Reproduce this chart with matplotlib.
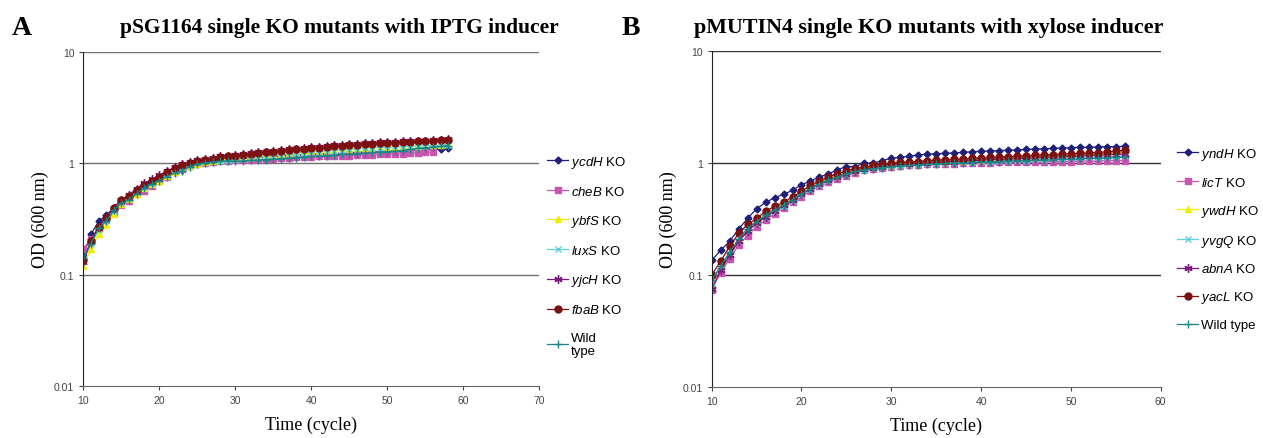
import numpy as np
import matplotlib
matplotlib.use("Agg")
import matplotlib.pyplot as plt

plt.rcParams['mathtext.fontset'] = 'custom'
plt.rcParams['mathtext.it'] = 'Liberation Sans:italic'
plt.rcParams['mathtext.rm'] = 'Liberation Sans'

# ---- panel A data (OD600 per cycle, starting at cycle 10) ----
a_names = ["ycdH", "cheB", "ybfS", "luxS", "yjcH", "fbaB", None]
a_ycdH = [0.15, 0.23, 0.30, 0.34, 0.40, 0.46, 0.50, 0.57, 0.63, 0.68, 0.74, 0.80, 0.84, 0.87, 0.95,
          1.00, 1.04, 1.07, 1.08, 1.10, 1.10, 1.12, 1.13, 1.14, 1.15, 1.16, 1.17, 1.18, 1.19, 1.19,
          1.20, 1.21, 1.22, 1.22, 1.23, 1.24, 1.25, 1.26, 1.27, 1.27, 1.28, 1.29, 1.30, 1.31, 1.33,
          1.34, 1.34, 1.35, 1.37]
a_cheB = [0.17, 0.21, 0.26, 0.31, 0.36, 0.42, 0.46, 0.53, 0.56, 0.63, 0.69, 0.76, 0.83, 0.89, 0.94,
          0.98, 1.00, 1.02, 1.04, 1.05, 1.06, 1.06, 1.07, 1.08, 1.09, 1.10, 1.11, 1.12, 1.13, 1.13,
          1.14, 1.15, 1.15, 1.16, 1.17, 1.17, 1.18, 1.19, 1.19, 1.20, 1.21, 1.21, 1.22, 1.23, 1.24,
          1.25, 1.26]
a_ybfS = [0.12, 0.17, 0.23, 0.28, 0.35, 0.43, 0.48, 0.53, 0.60, 0.65, 0.70, 0.77, 0.84, 0.90, 0.95,
          0.99, 1.02, 1.05, 1.07, 1.09, 1.11, 1.13, 1.14, 1.16, 1.18, 1.19, 1.21, 1.23, 1.25, 1.26,
          1.28, 1.29, 1.31, 1.32, 1.34, 1.35, 1.36, 1.37, 1.38, 1.39, 1.40, 1.41, 1.42, 1.43, 1.44,
          1.45, 1.46, 1.47, 1.48]
a_luxS = [0.14, 0.19, 0.25, 0.31, 0.37, 0.44, 0.48, 0.55, 0.61, 0.66, 0.72, 0.79, 0.86, 0.92, 0.97,
          1.00, 1.03, 1.04, 1.05, 1.06, 1.08, 1.10, 1.12, 1.14, 1.16, 1.17, 1.19, 1.21, 1.23, 1.24,
          1.26, 1.27, 1.29, 1.30, 1.32, 1.33, 1.34, 1.36, 1.37, 1.38, 1.39, 1.40, 1.41, 1.42, 1.43,
          1.44, 1.45, 1.46, 1.47]
a_yjcH = [0.13, 0.20, 0.27, 0.33, 0.40, 0.47, 0.52, 0.59, 0.66, 0.72, 0.78, 0.85, 0.92, 0.98, 1.02,
          1.06, 1.09, 1.12, 1.15, 1.17, 1.19, 1.21, 1.23, 1.25, 1.27, 1.29, 1.31, 1.33, 1.35, 1.37,
          1.39, 1.41, 1.43, 1.45, 1.47, 1.49, 1.50, 1.52, 1.53, 1.54, 1.55, 1.56, 1.57, 1.58, 1.59,
          1.60, 1.61, 1.63, 1.65]
a_fbaB = [0.135, 0.20, 0.27, 0.32, 0.40, 0.47, 0.51, 0.58, 0.64, 0.70, 0.76, 0.84, 0.91, 0.97, 1.00,
          1.04, 1.07, 1.10, 1.13, 1.15, 1.17, 1.19, 1.21, 1.23, 1.25, 1.27, 1.29, 1.31, 1.33, 1.35,
          1.36, 1.38, 1.40, 1.42, 1.44, 1.46, 1.47, 1.49, 1.50, 1.51, 1.52, 1.53, 1.55, 1.56, 1.57,
          1.58, 1.59, 1.61, 1.63]
a_wt = [0.14, 0.19, 0.26, 0.30, 0.38, 0.44, 0.47, 0.53, 0.60, 0.65, 0.70, 0.76, 0.82, 0.86, 0.93,
        0.98, 1.01, 1.03, 1.04, 1.05, 1.04, 1.05, 1.06, 1.07, 1.08, 1.09, 1.10, 1.11, 1.12, 1.14,
        1.15, 1.16, 1.17, 1.18, 1.20, 1.21, 1.22, 1.23, 1.25, 1.26, 1.27, 1.28, 1.30, 1.33, 1.36,
        1.38, 1.40, 1.42, 1.44]
a_series = [a_ycdH, a_cheB, a_ybfS, a_luxS, a_yjcH, a_fbaB, a_wt]

# ---- panel B data ----
b_names = ["yndH", "licT", "ywdH", "yvgQ", "abnA", "yacL", None]
b_yndH = [0.135, 0.166, 0.20, 0.257, 0.32, 0.39, 0.445, 0.49, 0.525, 0.57, 0.64, 0.69, 0.75, 0.80,
          0.87, 0.93, 0.93, 1.00, 1.00, 1.05, 1.10, 1.12, 1.15, 1.18, 1.20, 1.21, 1.22, 1.23, 1.245,
          1.26, 1.27, 1.28, 1.29, 1.30, 1.31, 1.32, 1.33, 1.34, 1.35, 1.36, 1.37, 1.38, 1.38, 1.39,
          1.40, 1.40, 1.41]
b_licT = [0.074, 0.105, 0.14, 0.185, 0.225, 0.27, 0.31, 0.35, 0.40, 0.45, 0.50, 0.56, 0.62, 0.67,
          0.72, 0.77, 0.82, 0.86, 0.89, 0.91, 0.93, 0.94, 0.95, 0.96, 0.97, 0.97, 0.98, 0.98, 0.99,
          0.99, 1.00, 1.00, 1.01, 1.01, 1.01, 1.02, 1.02, 1.02, 1.03, 1.03, 1.03, 1.04, 1.04, 1.04,
          1.05, 1.05, 1.05]
b_ywdH = [0.085, 0.12, 0.16, 0.21, 0.26, 0.30, 0.35, 0.39, 0.43, 0.48, 0.54, 0.60, 0.66, 0.72,
          0.77, 0.82, 0.86, 0.89, 0.92, 0.94, 0.96, 0.98, 0.99, 1.00, 1.01, 1.02, 1.03, 1.04, 1.05,
          1.06, 1.07, 1.08, 1.09, 1.10, 1.11, 1.12, 1.13, 1.14, 1.15, 1.16, 1.17, 1.18, 1.19, 1.20,
          1.21, 1.22, 1.24]
b_yvgQ = [0.085, 0.115, 0.155, 0.20, 0.25, 0.29, 0.33, 0.37, 0.41, 0.46, 0.52, 0.58, 0.64, 0.70,
          0.75, 0.80, 0.84, 0.87, 0.90, 0.92, 0.94, 0.95, 0.96, 0.97, 0.98, 0.99, 1.00, 1.01, 1.02,
          1.03, 1.04, 1.04, 1.05, 1.06, 1.07, 1.07, 1.08, 1.09, 1.10, 1.10, 1.11, 1.12, 1.13, 1.13,
          1.14, 1.15, 1.16]
b_abnA = [0.075, 0.11, 0.15, 0.20, 0.245, 0.29, 0.33, 0.37, 0.42, 0.47, 0.53, 0.59, 0.65, 0.70,
          0.75, 0.80, 0.84, 0.88, 0.91, 0.93, 0.95, 0.97, 0.98, 0.99, 1.00, 1.01, 1.02, 1.03, 1.04,
          1.05, 1.06, 1.07, 1.08, 1.08, 1.09, 1.10, 1.11, 1.12, 1.13, 1.13, 1.14, 1.15, 1.16, 1.17,
          1.18, 1.19, 1.20]
b_yacL = [0.10, 0.133, 0.18, 0.235, 0.283, 0.32, 0.37, 0.41, 0.445, 0.50, 0.56, 0.63, 0.69, 0.75,
          0.80, 0.85, 0.89, 0.92, 0.95, 0.97, 0.99, 1.01, 1.02, 1.03, 1.05, 1.06, 1.07, 1.08, 1.09,
          1.10, 1.11, 1.12, 1.13, 1.14, 1.15, 1.16, 1.17, 1.18, 1.19, 1.20, 1.21, 1.22, 1.23, 1.24,
          1.26, 1.28, 1.30]
b_wt = [0.09, 0.12, 0.16, 0.21, 0.26, 0.30, 0.34, 0.38, 0.42, 0.47, 0.53, 0.59, 0.65, 0.70, 0.75,
        0.80, 0.84, 0.87, 0.89, 0.91, 0.93, 0.94, 0.95, 0.96, 0.97, 0.98, 0.99, 1.00, 1.00, 1.01,
        1.02, 1.02, 1.03, 1.04, 1.04, 1.05, 1.06, 1.06, 1.07, 1.08, 1.08, 1.09, 1.10, 1.10, 1.11,
        1.12, 1.12]
b_series = [b_yndH, b_licT, b_ywdH, b_yvgQ, b_abnA, b_yacL, b_wt]

start_cycle = 10

# excel-ish styles: (color, marker, size)
styles = [("#1f1f7a", "D", 3.5), ("#c855b0", "s", 5), ("#f2ee00", "^", 5),
          ("#5ccfe0", "x", 5), ("#7a1a80", (6, 2, 0), 6), ("#7d1010", "o", 5),
          ("#1a8585", "+", 6)]

tick_font = ["Liberation Sans Narrow", "Liberation Sans"]


def draw_panel(ax, names, series, xmax, grid_col, wt_label, leg_anchor, spacing):
    for name, ys, (c, m, ms) in zip(names, series, styles):
        x = np.arange(start_cycle, start_cycle + len(ys))
        lab = wt_label if name is None else "$\\mathit{%s}$ KO" % name
        ax.plot(x, ys, color=c, marker=m, markersize=ms, lw=0.9, mew=1.0, label=lab)
    ax.set_yscale("log")
    ax.set_ylim(0.01, 10)
    ax.set_xlim(10, xmax)
    ax.set_xticks(range(10, xmax + 1, 10))
    ax.set_yticks([0.01, 0.1, 1, 10])
    ax.set_yticklabels(["0.01", "0.1", "1", "10"])
    ax.minorticks_off()
    for v in [0.1, 1, 10]:
        ax.axhline(v, color=grid_col, lw=1.0, zorder=0)
    for s in ["top", "right"]:
        ax.spines[s].set_visible(False)
    ax.spines["left"].set_color("#222222")
    ax.spines["bottom"].set_color("#666666")
    ax.tick_params(labelsize=7.5, colors="#444444", length=3, width=0.8)
    for t in ax.get_xticklabels() + ax.get_yticklabels():
        t.set_family(tick_font)
    ax.set_xlabel("Time (cycle)", family="Liberation Serif", fontsize=13, labelpad=8)
    ax.set_ylabel("OD (600 nm)", family="Liberation Serif", fontsize=13, labelpad=4)
    ax.legend(loc="upper left", bbox_to_anchor=leg_anchor, bbox_transform=fig.transFigure,
              frameon=False, prop={"family": "Liberation Sans", "size": 9.5},
              labelspacing=spacing, handlelength=1.6, handletextpad=0.2, borderaxespad=0)


fig = plt.figure(figsize=(12.63, 4.39), dpi=100)
axA = fig.add_axes([0.066, 0.1185, 0.361, 0.7610])
axB = fig.add_axes([0.5635, 0.1162, 0.3555, 0.7654])

draw_panel(axA, a_names, a_series, 70, "#707070", "Wild\ntype", (0.429, 0.66), 1.15)
draw_panel(axB, b_names, b_series, 60, "#333333", "Wild type", (0.928, 0.677), 1.05)

fig.text(0.269, 0.936, "pSG1164 single KO mutants with IPTG inducer", family="Liberation Serif",
         fontweight="bold", fontsize=15.5, ha="center", va="center")
fig.text(0.735, 0.936, "pMUTIN4 single KO mutants with xylose inducer", family="Liberation Serif",
         fontweight="bold", fontsize=15.8, ha="center", va="center")
fig.text(0.009, 0.936, "A", family="Liberation Serif", fontweight="bold", fontsize=20, va="center")
fig.text(0.492, 0.936, "B", family="Liberation Serif", fontweight="bold", fontsize=20, va="center")

fig.savefig("out.png", dpi=100)
